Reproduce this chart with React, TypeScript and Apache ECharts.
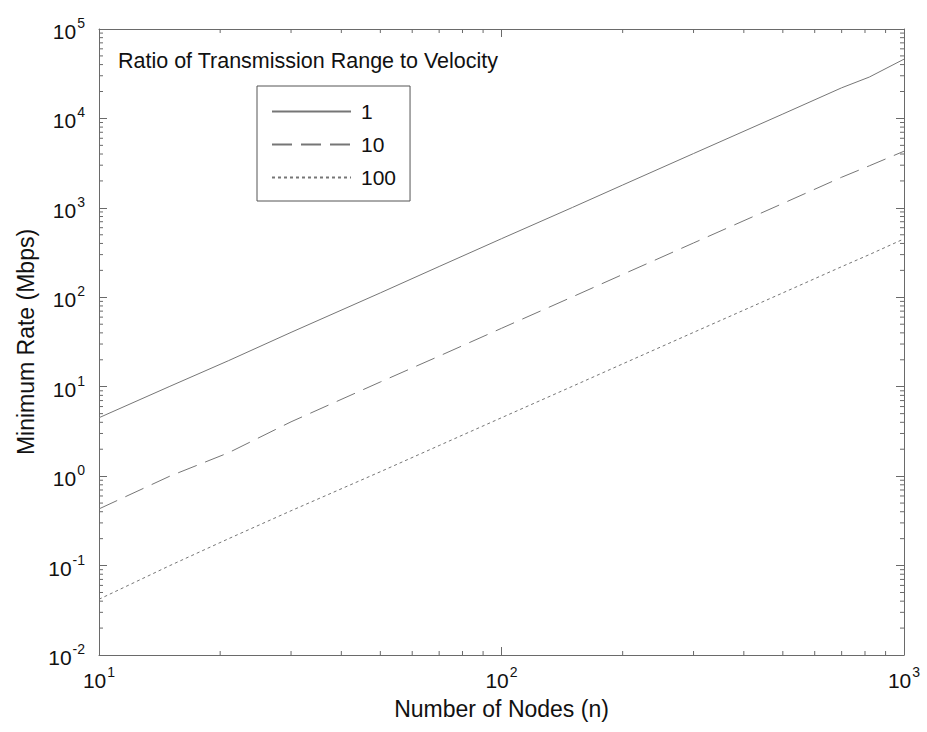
import React, { useEffect, useRef } from "react";
import * as echarts from "echarts";

const nodes = [10, 15, 21, 30, 50, 70, 100, 150, 200, 300, 500, 700, 820, 1000];
const ratio1 = [4.5, 10.1, 19.6, 40.5, 112, 221, 452, 1010, 1800, 4050, 11200, 22000, 29000, 46000];
const ratio10 = [0.43, 1.0, 1.83, 4.05, 11.3, 22, 45, 101, 180, 405, 1120, 2200, 2950, 4300];
const ratio100 = [0.042, 0.1, 0.2, 0.41, 1.12, 2.2, 4.5, 10.1, 18, 40.5, 112, 220, 300, 450];
const seriesNames = ["1", "10", "100"];
const xTickDecades = [1, 2, 3];
const yTickDecades = [-2, -1, 0, 1, 2, 3, 4, 5];

const FONT = "Liberation Sans, Arial, Helvetica, sans-serif";
const LINE = "#767676";
const AXIS = "#6a6a6a";

function minorTicks(decades: number[]) {
  const out: number[] = [];
  for (let i = 0; i < decades.length - 1; i++) {
    for (let m = 2; m <= 9; m++) out.push(m * Math.pow(10, decades[i]));
  }
  return out;
}

const supLabel = (v: number) => `{b|10}{s|${Math.round(Math.log10(v))}}`;
const rich = {
  b: { fontSize: 21, fontFamily: FONT, color: "#111", verticalAlign: "bottom", lineHeight: 26 },
  s: { fontSize: 14, fontFamily: FONT, color: "#111", verticalAlign: "top", lineHeight: 26, padding: [0, 0, 14, 1] },
};

export default function App() {
  const ref = useRef<HTMLDivElement>(null);
  useEffect(() => {
    if (!ref.current) return;
    const chart = echarts.init(ref.current, null, { renderer: "svg" });
    const xMin = Math.pow(10, xTickDecades[0]);
    const xMax = Math.pow(10, xTickDecades[xTickDecades.length - 1]);
    const yMin = Math.pow(10, yTickDecades[0]);
    const yMax = Math.pow(10, yTickDecades[yTickDecades.length - 1]);
    const tickData: any[] = [];
    minorTicks(xTickDecades).forEach((v) => tickData.push([v, yMin, "x"]));
    minorTicks(yTickDecades).forEach((v) => tickData.push([xMin, v, "y"]));

    const axisCommon = {
      type: "log" as const,
      logBase: 10,
      axisLine: { show: true, lineStyle: { color: AXIS, width: 1 } },
      axisTick: { show: true, inside: true, length: 8, lineStyle: { color: AXIS } },
      splitLine: { show: false },
      minorTick: { show: false },
    };
    const mk = (data: number[], name: string, type: any) => ({
      name,
      type: "line",
      data: nodes.map((n, i) => [n, data[i]]),
      showSymbol: false,
      symbol: "none",
      lineStyle: { color: LINE, width: 1, type },
      itemStyle: { color: LINE },
      xAxisIndex: 0,
      yAxisIndex: 0,
      z: 3,
    });

    chart.setOption({
      animation: false,
      backgroundColor: "#ffffff",
      title: {
        text: "Ratio of Transmission Range to Velocity",
        left: 113,
        top: 45,
        textStyle: { fontFamily: FONT, fontSize: 21.5, fontWeight: "normal", color: "#111" },
      },
      legend: {
        orient: "vertical",
        left: 257,
        top: 86,
        data: seriesNames,
        itemWidth: 79,
        itemHeight: 14,
        itemGap: 12,
        padding: [15, 14, 13, 14],
        borderColor: "#555",
        borderWidth: 1,
        backgroundColor: "#fff",
        selectedMode: false,
        itemStyle: { opacity: 0 },
        textStyle: { fontFamily: FONT, fontSize: 21, color: "#111", padding: [0, 0, 0, 5] },
      },
      grid: { left: 99, right: 23, top: 29, bottom: 77, containLabel: false },
      xAxis: [
        {
          ...axisCommon,
          min: xMin,
          max: xMax,
          position: "bottom",
          name: "Number of Nodes (n)",
          nameLocation: "middle",
          nameGap: 40,
          nameTextStyle: { fontFamily: FONT, fontSize: 23, color: "#111" },
          axisLabel: { formatter: supLabel, rich, margin: 10 },
        },
        {
          ...axisCommon,
          min: xMin,
          max: xMax,
          position: "top",
          axisLabel: { show: false },
        },
      ],
      yAxis: [
        {
          ...axisCommon,
          min: yMin,
          max: yMax,
          position: "left",
          name: "Minimum Rate (Mbps)",
          nameLocation: "middle",
          nameRotate: 90,
          nameGap: 58,
          nameTextStyle: { fontFamily: FONT, fontSize: 23, color: "#111" },
          axisLabel: { formatter: supLabel, rich, margin: 14 },
        },
        {
          ...axisCommon,
          min: yMin,
          max: yMax,
          position: "right",
          axisLabel: { show: false },
        },
      ],
      series: [
        mk(ratio1, seriesNames[0], "solid"),
        mk(ratio10, seriesNames[1], [20, 9]),
        mk(ratio100, seriesNames[2], [3, 3]),
        {
          type: "custom",
          name: "ticks",
          xAxisIndex: 0,
          yAxisIndex: 0,
          silent: true,
          clip: false,
          data: tickData,
          encode: { x: 0, y: 1 },
          renderItem: (params: any, api: any) => {
            const kind = tickData[params.dataIndex][2];
            const len = 4;
            const style = { stroke: AXIS, lineWidth: 1 };
            if (kind === "x") {
              const v = api.value(0);
              const b = api.coord([v, yMin]);
              const t = api.coord([v, yMax]);
              return {
                type: "group",
                children: [
                  { type: "line", shape: { x1: b[0], y1: b[1], x2: b[0], y2: b[1] - len }, style },
                  { type: "line", shape: { x1: t[0], y1: t[1], x2: t[0], y2: t[1] + len }, style },
                ],
              };
            }
            const v = api.value(1);
            const l = api.coord([xMin, v]);
            const r = api.coord([xMax, v]);
            return {
              type: "group",
              children: [
                { type: "line", shape: { x1: l[0], y1: l[1], x2: l[0] + len, y2: l[1] }, style },
                { type: "line", shape: { x1: r[0], y1: r[1], x2: r[0] - len, y2: r[1] }, style },
              ],
            };
          },
        },
      ],
    });
    return () => chart.dispose();
  }, []);
  return <div ref={ref} style={{ width: 927, height: 732, position: "absolute", left: 0, top: 0 }} />;
}
